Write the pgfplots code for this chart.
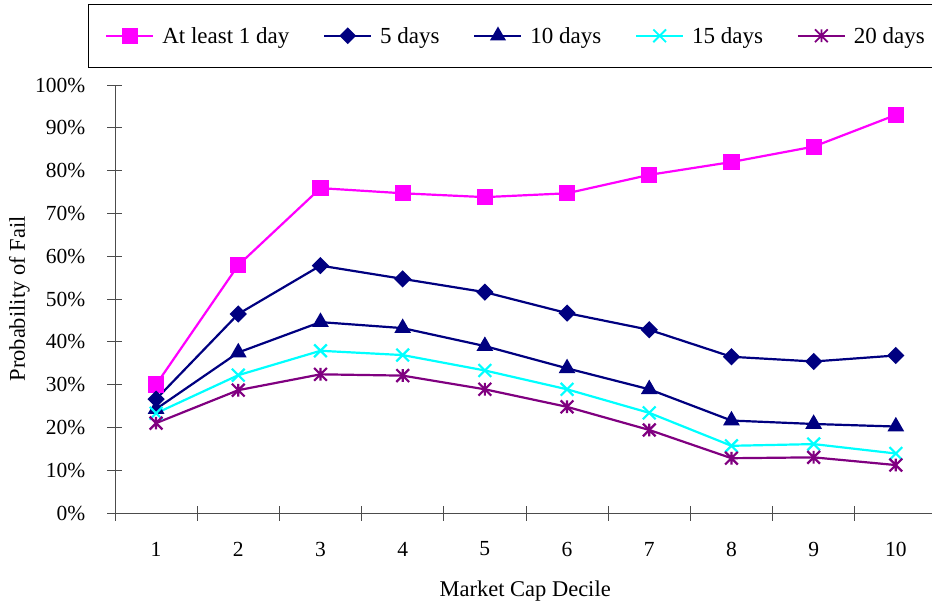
\documentclass[border=0pt]{standalone}
\usepackage{fontspec}
\setmainfont{Liberation Serif}
\usepackage{pgfplots}
\pgfplotsset{compat=1.18}

\definecolor{cMag}{HTML}{FF00FF}
\definecolor{cNavy}{HTML}{000080}
\definecolor{cCyan}{HTML}{00FFFF}
\definecolor{cPurple}{HTML}{800080}

% x with a vertical bar, like the spreadsheet star marker
\pgfdeclareplotmark{xstar}{%
  \pgfpathmoveto{\pgfqpoint{-.7071\pgfplotmarksize}{-.7071\pgfplotmarksize}}%
  \pgfpathlineto{\pgfqpoint{.7071\pgfplotmarksize}{.7071\pgfplotmarksize}}%
  \pgfpathmoveto{\pgfqpoint{-.7071\pgfplotmarksize}{.7071\pgfplotmarksize}}%
  \pgfpathlineto{\pgfqpoint{.7071\pgfplotmarksize}{-.7071\pgfplotmarksize}}%
  \pgfpathmoveto{\pgfqpoint{0pt}{-.7071\pgfplotmarksize}}%
  \pgfpathlineto{\pgfqpoint{0pt}{.7071\pgfplotmarksize}}%
  \pgfusepathqstroke}

\begin{document}
\begin{tikzpicture}
\begin{axis}[
    scale only axis,
    width=817bp, height=428bp,
    at={(0,0)}, anchor=south west,
    xmin=0.5, xmax=10.44,
    ymin=0, ymax=100,
    axis x line=bottom, axis y line=left,
    axis line style={black!70, line width=0.9bp, -},
    xtick={0.5,1.5,...,9.5}, xticklabels={},
    extra x ticks={1,...,10},
    extra x tick labels={1,2,3,4,5,6,7,8,9,10},
    extra x tick style={major tick length=0pt},
    ytick={0,10,...,100},
    yticklabel={\pgfmathprintnumber{\tick}\%},
    tick align=center,
    major tick length=15bp,
    tick style={black!70, line width=0.9bp},
    /pgf/number format/assume math mode=true,
    tick label style={font=\fontsize{21.5bp}{24bp}\selectfont},
    xticklabel style={anchor=center, inner sep=0pt, yshift=-36bp},
    yticklabel style={anchor=east, inner sep=0pt, xshift=-22bp},
    xlabel={Market Cap Decile},
    ylabel={Probability of Fail},
    label style={font=\fontsize{22.5bp}{26bp}\selectfont},
    xlabel style={at={(axis description cs:0.502,-0.182)}, anchor=center},
    ylabel style={at={(axis description cs:-0.117,0.5)}, anchor=center},
    clip=false,
    legend columns=5,
    legend style={
        at={(axis description cs:-0.033,1.189)}, anchor=north west,
        draw=black, line width=0.9bp,
        font=\fontsize{23bp}{26bp}\selectfont,
        inner xsep=17bp, inner ysep=19.5bp,
        nodes={inner sep=3bp},
        /tikz/every odd column/.style={column sep=5bp},
        /tikz/every even column/.style={column sep=31bp},
    },
    legend image code/.code={
        \draw[mark repeat=2, mark phase=2, #1, line width=1.8bp]
            plot coordinates {(0bp,0bp) (23.5bp,0bp) (47bp,0bp)};
    },
]
\addplot[cMag, line width=2.2bp, mark=square*, mark size=7bp] coordinates {
    (1,30.0) (2,57.9) (3,75.9) (4,74.7) (5,73.8)
    (6,74.7) (7,79.0) (8,82.0) (9,85.6) (10,93.0)
};
\addlegendentry{At least 1 day}
\addplot[cNavy, line width=2.2bp, mark=square*, mark size=5bp, mark options={rotate=45}] coordinates {
    (1,26.6) (2,46.5) (3,57.8) (4,54.7) (5,51.6)
    (6,46.7) (7,42.8) (8,36.5) (9,35.4) (10,36.8)
};
\addlegendentry{5 days}
\addplot[cNavy, line width=2.2bp, mark=triangle*, mark size=7.5bp] coordinates {
    (1,24.3) (2,37.5) (3,44.6) (4,43.2) (5,39.0)
    (6,33.8) (7,28.9) (8,21.6) (9,20.8) (10,20.2)
};
\addlegendentry{10 days}
\addplot[cCyan, line width=2.2bp, mark=x, mark size=9bp] coordinates {
    (1,23.3) (2,32.2) (3,37.9) (4,36.9) (5,33.3)
    (6,28.9) (7,23.4) (8,15.7) (9,16.1) (10,13.9)
};
\addlegendentry{15 days}
\addplot[cPurple, line width=2.2bp, mark=xstar, mark size=9bp] coordinates {
    (1,21.0) (2,28.7) (3,32.4) (4,32.1) (5,28.9)
    (6,24.8) (7,19.4) (8,12.8) (9,13.0) (10,11.2)
};
\addlegendentry{20 days}
\end{axis}
\pgfresetboundingbox
\useasboundingbox (-115bp,-96bp) rectangle (817bp,513bp);
\end{tikzpicture}
\end{document}
